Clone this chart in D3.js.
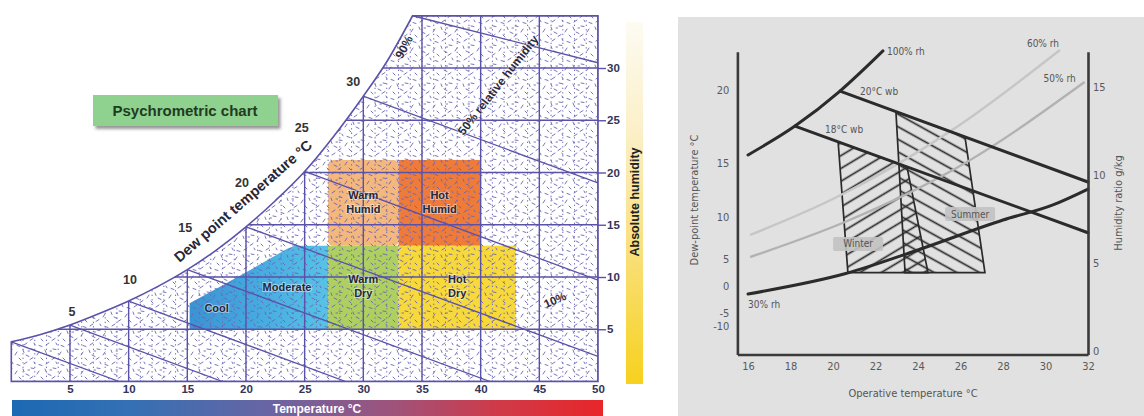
<!DOCTYPE html>
<html><head><meta charset="utf-8">
<script src="https://cdn.jsdelivr.net/npm/d3@7"></script>
<style>html,body{margin:0;padding:0;background:#fff;} svg{display:block;}</style>
</head><body>
<svg id="c" width="1144" height="416"></svg>
<script>
// ================= DATA: left psychrometric chart =================
const tempTicks = [5, 10, 15, 20, 25, 30, 35, 40, 45, 50];          // dry-bulb °C
const humidityTicks = [5, 10, 15, 20, 25, 30];                      // absolute humidity g/kg
const saturationCurve = [[0,3.8],[2.5,4.5],[5,5.4],[7.5,6.5],[10,7.7],[12.5,9.1],[15,10.7],[17.5,12.6],[20,14.8],[22.5,17.3],[25,20.1],[27.5,23.5],[30,27.3],[32,30.6],[34.2,35]];
const dewPointLabels = [5, 10, 15, 20, 25, 30];
const wetBulbLines = [
  [[0,3.8],[9.2,0]],
  [[5,5.4],[18,0]],
  [[10,7.7],[28.5,0]],
  [[15,10.7],[40.8,0]],
  [[20,14.8],[50,2.4]],
  [[25,20.1],[50,9.7]],
  [[30,27.3],[50,19]],
  [[34.2,35],[50,30.5]]
];
const coolZone = [[15.2,5],[15.2,7.5],[17,8.6],[19.2,9.95],[21.5,11.4],[23.5,12.7],[24.2,13],[27,13],[27,5]];
const rectZones = [
  {name:"Warm Dry",   t0:27, t1:33, w0:5,  w1:13},
  {name:"Hot Dry",    t0:33, t1:43, w0:5,  w1:13},
  {name:"Warm Humid", t0:27, t1:33, w0:13, w1:21.2},
  {name:"Hot Humid",  t0:33, t1:40, w0:13, w1:21.2}
];
const coolLabels = ["Cool", "Moderate"];

// ================= DATA: right comfort chart =================
const opTempTicks = [16, 18, 20, 22, 24, 26, 28, 30, 32];
const humidityRatioTicks = [0, 5, 10, 15];
const dewPointTicks = [
  {label:"20", w:14.83}, {label:"15", w:10.68}, {label:"10", w:7.61},
  {label:"5", w:5.23}, {label:"0", w:3.69}, {label:"-5", w:2.16}, {label:"-10", w:1.42}
];
const rh100 = [[16,11.14],[18.21,12.78],[20.33,14.77],[22.35,17.05]];
const wb20  = [[20.33,14.77],[32,9.6]];
const wb18  = [[18.21,12.78],[32,6.72]];
const rh30  = [[16,3.24],[20.6,4.4],[24,5.74],[28,7.44],[30.35,8.3],[32,9.2]];
const rh60  = [[16.1,6.59],[20.09,8.69],[25.82,12.73],[30.68,17.1]];
const rh50  = [[16.1,5.34],[20.56,7.33],[26.3,10.74],[31.84,15.28]];
const winterZone = [[20.24,11.89],[23.48,10.46],[24.47,4.45],[20.7,4.45]];
const summerZone = [[22.96,13.6],[26.21,12.17],[27.15,4.45],[23.39,4.45]];

// ================= LAYOUT (pixel offsets / anchors) =================
const dewLabelOffsets = [[2,-13],[1.4,-21],[-2,-42],[-4,-44],[-3,-43],[-10,-14]];
const coolLabelAnchors = [[17.5,7.0],[23.5,9.0]];

const svg = d3.select("#c");
const defs = svg.append("defs");
const LF = "'Liberation Sans', Arial, sans-serif";
const RF = "'DejaVu Sans Condensed','Liberation Sans Narrow','Roboto','DejaVu Sans',sans-serif";

// ---------- gradients / patterns ----------
const tg = defs.append("linearGradient").attr("id","tempGrad").attr("x1","0%").attr("x2","100%");
[[0,"#1c69b3"],[0.2,"#3470b4"],[0.45,"#6c64a2"],[0.65,"#a0527a"],[0.82,"#cf3a48"],[1,"#e8262a"]]
  .forEach(s => tg.append("stop").attr("offset", s[0]).attr("stop-color", s[1]));
const hg = defs.append("linearGradient").attr("id","humGrad").attr("x1","0%").attr("x2","0%").attr("y1","0%").attr("y2","100%");
[[0,"#fdfbf3"],[0.3,"#fbf0c8"],[0.6,"#f9e183"],[1,"#f7d11e"]]
  .forEach(s => hg.append("stop").attr("offset", s[0]).attr("stop-color", s[1]));
const bg = defs.append("linearGradient").attr("id","blueGrad").attr("x1","0%").attr("x2","100%");
[[0,"#3a93d3"],[0.5,"#46abe0"],[1,"#57c3e6"]]
  .forEach(s => bg.append("stop").attr("offset", s[0]).attr("stop-color", s[1]));

const tex = defs.append("pattern").attr("id","tex").attr("patternUnits","userSpaceOnUse").attr("width",22).attr("height",19);
[[2,3,5,1],[9,7,12,7.5],[15,13,17,10],[4,13,7,14.5],[8,17.5,11,15.5],[17,3.5,20,4.5],[12,1,13,2.8],[1,8,2,10.5],[19,16,21,18],[6,9,7.5,9]]
  .forEach(d => tex.append("line").attr("x1",d[0]).attr("y1",d[1]).attr("x2",d[2]).attr("y2",d[3])
     .attr("stroke","#6a63b3").attr("stroke-width",0.9).attr("stroke-linecap","round"));

const shadow = defs.append("filter").attr("id","shadow").attr("x","-10%").attr("y","-20%").attr("width","130%").attr("height","160%");
shadow.append("feDropShadow").attr("dx",2.5).attr("dy",3).attr("stdDeviation",1.5).attr("flood-color","#444").attr("flood-opacity",0.55);

function hatch(id, angle) {
  const p = defs.append("pattern").attr("id", id).attr("patternUnits","userSpaceOnUse")
    .attr("width", 11).attr("height", 11).attr("patternTransform", `rotate(${angle})`);
  p.append("line").attr("x1",-2).attr("x2",13).attr("y1",5.5).attr("y2",5.5)
    .attr("stroke","#2a2a2a").attr("stroke-width",1.7);
}
hatch("hWinter", -31);
hatch("hSummer", 29);

// ================= LEFT CHART =================
const xL = d3.scaleLinear().domain([0, 50]).range([11.3, 598]);
const yL = d3.scaleLinear().domain([0, 35]).range([381.5, 15.75]);
const satLine = d3.line().x(d => xL(d[0])).y(d => yL(d[1])).curve(d3.curveMonotoneX);
const satPath = satLine(saturationCurve);
const regionPath = satPath + `L${xL(50)},${yL(35)}L${xL(50)},${yL(0)}L${xL(0)},${yL(0)}Z`;

defs.append("clipPath").attr("id","leftClip").append("path").attr("d", regionPath);

const L = svg.append("g");

// coloured comfort zones
L.append("path")
  .attr("d", d3.line().x(d => xL(d[0])).y(d => yL(d[1])).curve(d3.curveLinear)(coolZone) + "Z")
  .attr("fill","url(#blueGrad)");
const zoneColors = {"Warm Dry":"#add061","Hot Dry":"#f7d93b","Warm Humid":"#f4b87e","Hot Humid":"#ef7b3a"};
L.selectAll("rect.zone").data(rectZones).join("rect").attr("class","zone")
  .attr("x", d => xL(d.t0)).attr("y", d => yL(d.w1))
  .attr("width", d => xL(d.t1) - xL(d.t0)).attr("height", d => yL(d.w0) - yL(d.w1))
  .attr("rx", d => d.name === "Warm Humid" ? 5 : 0)
  .attr("fill", d => zoneColors[d.name]);

// texture + grid clipped to the chart region
const G = L.append("g").attr("clip-path","url(#leftClip)");
G.append("rect").attr("x",0).attr("y",0).attr("width",620).attr("height",400).attr("fill","url(#tex)");
G.selectAll("line.dot").data(d3.range(0, 51, 1)).join("line").attr("class","dot")
  .attr("x1", d => xL(d)).attr("x2", d => xL(d)).attr("y1", yL(0)).attr("y2", yL(35))
  .attr("stroke","#7069b6").attr("stroke-width",1).attr("stroke-dasharray","1.3,3.2");
G.selectAll("line.vg").data(d3.range(0, 51, 5)).join("line").attr("class","vg")
  .attr("x1", d => xL(d)).attr("x2", d => xL(d)).attr("y1", yL(0)).attr("y2", yL(35))
  .attr("stroke","#5a52a8").attr("stroke-width",1.4);
G.selectAll("line.hg").data(d3.range(0, 36, 5)).join("line").attr("class","hg")
  .attr("x1", xL(0)).attr("x2", xL(50)).attr("y1", d => yL(d)).attr("y2", d => yL(d))
  .attr("stroke","#5a52a8").attr("stroke-width",1.4);
G.selectAll("path.wb").data(wetBulbLines).join("path").attr("class","wb")
  .attr("d", d3.line().x(d => xL(d[0])).y(d => yL(d[1])))
  .attr("fill","none").attr("stroke","#5a52a8").attr("stroke-width",1.3);

// outline
L.append("path").attr("d", regionPath).attr("fill","none").attr("stroke","#5a52a8").attr("stroke-width",1.6);

// axes
const axB = L.append("g").attr("transform", `translate(0,${yL(0)})`)
  .call(d3.axisBottom(xL).tickValues(tempTicks).tickSize(0).tickPadding(3));
axB.select(".domain").remove();
axB.selectAll("text").attr("font-family", LF).attr("font-weight","bold").attr("font-size",11.5).attr("fill","#34345a");

const axR = L.append("g").attr("transform", `translate(${xL(50)},0)`)
  .call(d3.axisRight(yL).tickValues(humidityTicks).tickSize(8).tickPadding(1));
axR.select(".domain").remove();
axR.selectAll("line").attr("stroke","#5a52a8").attr("stroke-width",1.4);
axR.selectAll("text").attr("font-family", LF).attr("font-weight","bold").attr("font-size",11.5).attr("fill","#34345a");

// zone labels
const halo = sel => sel.attr("font-family", LF).attr("font-weight","bold").attr("font-size",11)
  .attr("fill","#23283a").attr("stroke","#ffffff").attr("stroke-width",2).attr("stroke-opacity",0.45)
  .attr("paint-order","stroke").attr("text-anchor","middle");
L.selectAll("text.cool").data(coolLabels).join("text").attr("class","cool")
  .attr("x", (d,i) => xL(coolLabelAnchors[i][0])).attr("y", (d,i) => yL(coolLabelAnchors[i][1]) + 4)
  .text(d => d).call(halo);
rectZones.forEach(z => {
  const parts = z.name.split(" ");
  const cx = (xL(z.t0) + xL(z.t1)) / 2, cy = (yL(z.w0) + yL(z.w1)) / 2;
  L.append("text").attr("x", cx).attr("y", cy - 4).text(parts[0]).call(halo);
  L.append("text").attr("x", cx).attr("y", cy + 10).text(parts[1]).call(halo);
});

// dew point labels
dewPointLabels.forEach((t, i) => {
  const w = saturationCurve.find(p => p[0] === t)[1];
  L.append("text").attr("x", xL(t) + dewLabelOffsets[i][0]).attr("y", yL(w) + dewLabelOffsets[i][1] + 4)
    .attr("text-anchor","middle").attr("font-family", LF).attr("font-weight","bold").attr("font-size",12.5)
    .attr("fill","#333").text(String(t));
});
L.append("text").attr("transform","translate(243,201) rotate(-41)").attr("text-anchor","middle")
  .attr("font-family", LF).attr("font-weight","bold").attr("font-size",14.5).attr("fill","#262636")
  .attr("dy","0.35em").text("Dew point temperature °C");
const rhLab = (txt, x, y, a, fs) => L.append("text").attr("transform",`translate(${x},${y}) rotate(${a})`)
  .attr("text-anchor","middle").attr("dy","0.35em").attr("font-family", LF).attr("font-weight","bold")
  .attr("font-size", fs).attr("fill","#2a2a3e").attr("stroke","#fff").attr("stroke-width",1.5)
  .attr("stroke-opacity",0.5).attr("paint-order","stroke").text(txt);
rhLab("90%", 404, 47, -62, 12);
rhLab("50% relative humidity", 498, 85, -52, 12);
rhLab("10%", 555, 300, -24, 11.5);

// title box
L.append("rect").attr("x",93).attr("y",95).attr("width",185).attr("height",31)
  .attr("fill","#8fd18f").attr("filter","url(#shadow)");
L.append("text").attr("x",185).attr("y",111).attr("dy","0.35em").attr("text-anchor","middle")
  .attr("font-family", LF).attr("font-weight","bold").attr("font-size",15).attr("fill","#1f3b22")
  .text("Psychrometric chart");

// temperature gradient bar
L.append("rect").attr("x",12).attr("y",400).attr("width",591).attr("height",16).attr("fill","url(#tempGrad)");
L.append("text").attr("x",317).attr("y",409).attr("dy","0.35em").attr("text-anchor","middle")
  .attr("font-family", LF).attr("font-weight","bold").attr("font-size",12).attr("fill","#fff")
  .text("Temperature °C");

// absolute humidity bar
L.append("rect").attr("x",626).attr("y",22).attr("width",17).attr("height",362).attr("fill","url(#humGrad)");
L.append("text").attr("transform","translate(635,202) rotate(-90)").attr("dy","0.35em")
  .attr("text-anchor","middle").attr("font-family", LF).attr("font-weight","bold").attr("font-size",12.5)
  .attr("fill","#222").text("Absolute humidity");

// ================= RIGHT CHART =================
const R = svg.append("g");
R.append("rect").attr("x",678).attr("y",17).attr("width",466).attr("height",399).attr("fill","#e1e1e1");

const xR = d3.scaleLinear().domain([15.5, 32]).range([737.4, 1088]);
const yR = d3.scaleLinear().domain([-0.2, 17]).range([354.5, 51.8]);
const lineR = d3.line().x(d => xR(d[0])).y(d => yR(d[1]));
const curveR = d3.line().x(d => xR(d[0])).y(d => yR(d[1])).curve(d3.curveMonotoneX);

// hatched zones
R.append("path").attr("d", lineR(winterZone) + "Z").attr("fill","url(#hWinter)")
  .attr("stroke","#2a2a2a").attr("stroke-width",1.7);
R.append("path").attr("d", lineR(summerZone) + "Z").attr("fill","url(#hSummer)")
  .attr("stroke","#2a2a2a").attr("stroke-width",1.7);

// light rh curves
R.append("path").attr("d", curveR(rh60)).attr("fill","none").attr("stroke","#c6c6c6").attr("stroke-width",2.4);
R.append("path").attr("d", curveR(rh50)).attr("fill","none").attr("stroke","#b2b2b2").attr("stroke-width",2.4);

// heavy lines
[rh100, wb20, wb18, rh30].forEach(d => {
  R.append("path").attr("d", curveR(d)).attr("fill","none").attr("stroke","#2b2b2b")
    .attr("stroke-width",3).attr("stroke-linecap","round");
});

// axes
const styleAxis = g => {
  g.select(".domain").attr("stroke","#3a3a3a").attr("stroke-width",2.6);
  g.selectAll("text").attr("font-family", RF).attr("font-size",11).attr("fill","#5a5a5a");
};
R.append("g").attr("transform", `translate(0,${yR(-0.2)})`)
  .call(d3.axisBottom(xR).tickValues(opTempTicks).tickSize(0).tickSizeOuter(0).tickPadding(8)).call(styleAxis);
R.append("g").attr("transform", `translate(${xR(32)},0)`)
  .call(d3.axisRight(yR).tickValues(humidityRatioTicks).tickSize(0).tickSizeOuter(0).tickPadding(5)).call(styleAxis);
R.append("g").attr("transform", `translate(${xR(15.5)},0)`)
  .call(d3.axisLeft(yR).tickValues(dewPointTicks.map(d => d.w))
    .tickFormat((d, i) => dewPointTicks[i].label).tickSize(0).tickSizeOuter(0).tickPadding(8)).call(styleAxis);

// axis titles
const rText = (txt, x, y, rot, anchor, fs) => R.append("text")
  .attr("transform", `translate(${x},${y}) rotate(${rot})`).attr("dy","0.35em")
  .attr("text-anchor", anchor).attr("font-family", RF).attr("font-size", fs).attr("fill","#555").text(txt);
rText("Operative temperature °C", 913, 393, 0, "middle", 11);
rText("Dew-point temperature °C", 694, 200, -90, "middle", 11);
rText("Humidity ratio g/kg", 1118, 203, -90, "middle", 11);

// line labels
const endPx = d => [xR(d[0]), yR(d[1])];
let p;
p = endPx(rh100[rh100.length - 1]); rText("100% rh", p[0] + 4, p[1] + 1, 0, "start", 10);
p = endPx(wb20[0]); rText("20°C wb", p[0] + 20, p[1], 0, "start", 10);
p = endPx(wb18[0]); rText("18°C wb", p[0] + 30, p[1] + 3, 0, "start", 10);
p = endPx(rh60[rh60.length - 1]); rText("60% rh", p[0] - 17, p[1] - 7, 0, "middle", 10);
p = endPx(rh50[rh50.length - 1]); rText("50% rh", p[0] - 25, p[1] - 4, 0, "middle", 10);
p = endPx(rh30[0]); rText("30% rh", p[0], p[1] + 11, 0, "start", 10);

// zone labels with grey boxes
[["Winter", 21.18, 6.08], ["Summer", 26.45, 7.78]].forEach(z => {
  const cx = xR(z[1]), cy = yR(z[2]);
  R.append("rect").attr("x", cx - 25).attr("y", cy - 7).attr("width", 50).attr("height", 14).attr("rx", 2)
    .attr("fill","#c2c2c2").attr("opacity",0.9);
  rText(z[0], cx, cy, 0, "middle", 10);
});
</script>
</body></html>
